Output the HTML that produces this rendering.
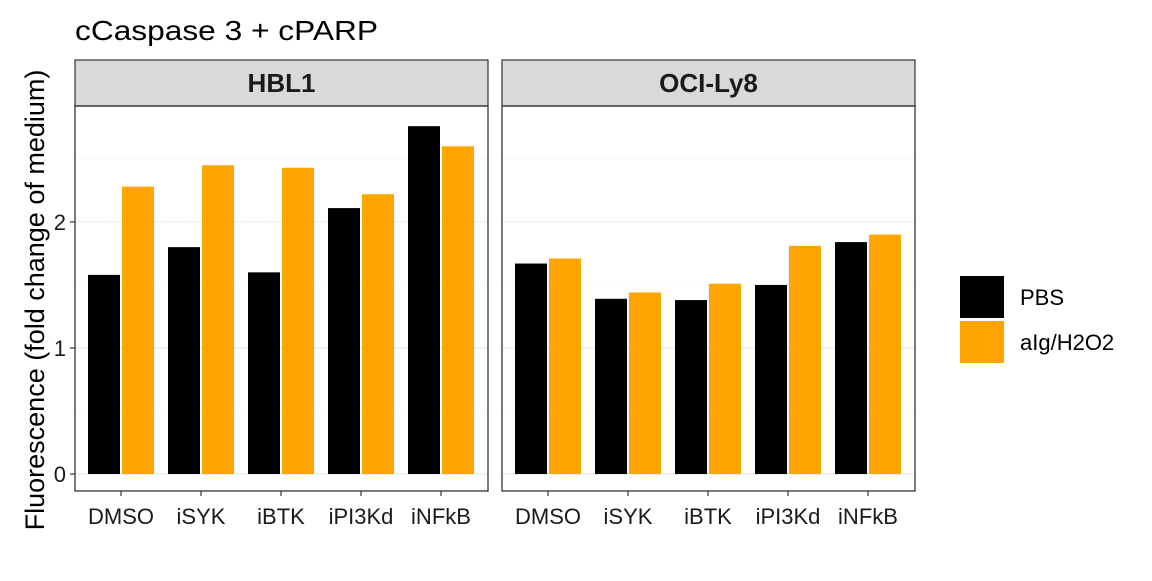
<!DOCTYPE html>
<html><head><meta charset="utf-8"><style>body{margin:0;background:#fff}svg{font-family:"Liberation Sans",Arial,sans-serif}</style></head>
<body>
<svg id="c" width="1152" height="576"></svg>
<script>
const categories=["DMSO","iSYK","iBTK","iPI3Kd","iNFkB"];
const panels=["HBL1","OCI-Ly8"];
const hblPBS=[1.58,1.80,1.60,2.11,2.76];
const hblH2O2=[2.28,2.45,2.43,2.22,2.60];
const ociPBS=[1.67,1.39,1.38,1.50,1.84];
const ociH2O2=[1.71,1.44,1.51,1.81,1.90];
const yTicks=[0,1,2];
const seriesNames=["PBS","aIg/H2O2"];
const colors=["#000000","#FFA500"];
const NS="http://www.w3.org/2000/svg";
const svg=document.getElementById('c');
function el(t,a,p){const e=document.createElementNS(NS,t);for(const k in a)e.setAttribute(k,a[k]);(p||svg).appendChild(e);return e;}
const plotTop=106,plotBot=491,yMin=-0.135,yMax=2.92;
function y(v){return plotBot-(v-yMin)/(yMax-yMin)*(plotBot-plotTop);}
const panelX=[75,502],pw=413;
function x(i,px){return px+46+i*80;}
const data=[[hblPBS,hblH2O2],[ociPBS,ociH2O2]];
let t=el('text',{x:75,y:40,'font-size':28,textLength:303,lengthAdjust:'spacingAndGlyphs',fill:'#000'});t.textContent="cCaspase 3 + cPARP";

t=el('text',{x:0,y:0,'font-size':27,'text-anchor':'middle',transform:'translate(44,300) rotate(-90)'});t.textContent="Fluorescence (fold change of medium)";

panels.forEach((p,pi)=>{
 const px=panelX[pi];
 const g=el('g',{});
 
 
 el('rect',{x:px,y:60,width:pw,height:46,fill:'#d9d9d9',stroke:'#333','stroke-width':1.2},g);
 let s=el('text',{x:px+pw/2,y:92,'font-size':26,'font-weight':'bold','text-anchor':'middle',fill:'#1a1a1a'},g);s.textContent=p;
 
 [0.5,1.5,2.5].forEach(v=>el('line',{x1:px,x2:px+pw,y1:y(v),y2:y(v),stroke:'#f5f5f5','stroke-width':0.6},g));
 yTicks.forEach(v=>el('line',{x1:px,x2:px+pw,y1:y(v),y2:y(v),stroke:'#ebebeb','stroke-width':1.2},g));
 data[pi].forEach((ser,si)=>ser.forEach((v,i)=>{
  const cx=x(i,px),bx=si==0?cx-33:cx+1;
  const r=el('rect',{x:bx,y:y(v),width:32,height:y(0)-y(v),fill:colors[si]},g);
  
  
 }));
 el('rect',{x:px,y:plotTop,width:pw,height:plotBot-plotTop,fill:'none',stroke:'#333','stroke-width':1.3},g);
 categories.forEach((c,i)=>{
  el('line',{x1:x(i,px),x2:x(i,px),y1:plotBot,y2:plotBot+5,stroke:'#333','stroke-width':1.2},g);
  const l=el('text',{x:x(i,px),y:524,'font-size':22,'text-anchor':'middle',fill:'#1a1a1a'},g);l.textContent=c;
  
 });
 if(pi==0) yTicks.forEach(v=>{
  el('line',{x1:px-5,x2:px,y1:y(v),y2:y(v),stroke:'#333','stroke-width':1.2});
  const l=el('text',{x:px-9,y:y(v)+8,'font-size':22,'text-anchor':'end',fill:'#1a1a1a'});l.textContent=v;
  
 });
});
seriesNames.forEach((n,i)=>{
 const g=el('g',{});
 
 
 el('rect',{x:960,y:276+i*45,width:44,height:42,fill:colors[i]},g);
 const l=el('text',{x:1020,y:305+i*45,'font-size':22},g);l.textContent=n;
});
</script>
</body></html>
